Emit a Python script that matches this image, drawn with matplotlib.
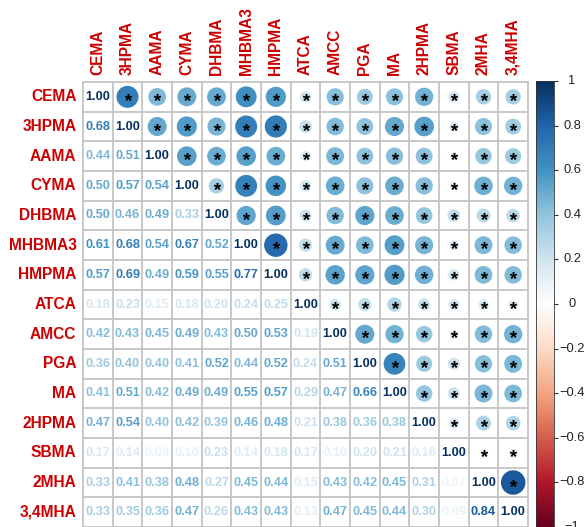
import numpy as np
import matplotlib
matplotlib.use("Agg")
import matplotlib.pyplot as plt
from matplotlib.colors import LinearSegmentedColormap
from matplotlib.patches import Circle
from matplotlib.textpath import TextPath
from matplotlib.font_manager import FontProperties
from matplotlib.path import Path

# Biomarker names (rows and columns of the correlation matrix)
labels = ["CEMA", "3HPMA", "AAMA", "CYMA", "DHBMA", "MHBMA3", "HMPMA", "ATCA",
          "AMCC", "PGA", "MA", "2HPMA", "SBMA", "2MHA", "3,4MHA"]

# Lower triangle of the Spearman correlation matrix (row by row, diagonal included)
lower_tri = [
    [1.00],
    [0.68, 1.00],
    [0.44, 0.51, 1.00],
    [0.50, 0.57, 0.54, 1.00],
    [0.50, 0.46, 0.49, 0.33, 1.00],
    [0.61, 0.68, 0.54, 0.67, 0.52, 1.00],
    [0.57, 0.69, 0.49, 0.59, 0.55, 0.77, 1.00],
    [0.18, 0.23, 0.15, 0.18, 0.20, 0.24, 0.25, 1.00],
    [0.42, 0.43, 0.45, 0.49, 0.43, 0.50, 0.53, 0.19, 1.00],
    [0.36, 0.40, 0.40, 0.41, 0.52, 0.44, 0.52, 0.24, 0.51, 1.00],
    [0.41, 0.51, 0.42, 0.49, 0.49, 0.55, 0.57, 0.29, 0.47, 0.66, 1.00],
    [0.47, 0.54, 0.40, 0.42, 0.39, 0.46, 0.48, 0.21, 0.38, 0.36, 0.38, 1.00],
    [0.17, 0.14, 0.09, 0.10, 0.23, 0.14, 0.18, 0.17, 0.10, 0.20, 0.21, 0.16, 1.00],
    [0.33, 0.41, 0.38, 0.48, 0.27, 0.45, 0.44, 0.15, 0.43, 0.42, 0.45, 0.31, 0.07, 1.00],
    [0.33, 0.35, 0.36, 0.47, 0.26, 0.43, 0.43, 0.13, 0.47, 0.45, 0.44, 0.30, 0.09, 0.84, 1.00],
]

# Significance flags for the upper triangle (all pairs significant)
significant = [[True] * len(labels) for _ in labels]

# Colorbar tick values and their labels
cbar_ticks = [-1.0, -0.8, -0.6, -0.4, -0.2, 0.0, 0.2, 0.4, 0.6, 0.8, 1.0]
cbar_labels = ["−1", "−0.8", "−0.6", "−0.4", "−0.2", "0", "0.2", "0.4", "0.6", "0.8", "1"]

n = len(labels)
corr = np.zeros((n, n))
for i, row in enumerate(lower_tri):
    for j, v in enumerate(row):
        corr[i, j] = v
        corr[j, i] = v

cmap = LinearSegmentedColormap.from_list(
    "rdbu_corr",
    ["#67001F", "#B2182B", "#D6604D", "#F4A582", "#FDDBC7", "#FFFFFF",
     "#D1E5F0", "#92C5DE", "#4393C3", "#2166AC", "#053061"], N=200)
norm = plt.Normalize(-1, 1)

label_color = "#CC0000"
font_bold = FontProperties(family="Liberation Sans", weight="bold")

W, H = 586, 527
fig = plt.figure(figsize=(W / 100, H / 100), dpi=100)

# matrix axes: pixel box x 83..528, y 82..527
gx0, gy0, gs = 83, 82, 445
ax = fig.add_axes([gx0 / W, (H - gy0 - gs) / H, gs / W, gs / H])
ax.set_xlim(0, n)
ax.set_ylim(n, 0)
ax.set_axis_off()

# asterisk marker built from a glyph, centred on the origin
tp = TextPath((0, 0), "*", prop=font_bold, size=10)
verts = tp.vertices.copy()
codes = tp.codes
real = codes != Path.CLOSEPOLY
x0, x1 = verts[real, 0].min(), verts[real, 0].max()
y0, y1 = verts[real, 1].min(), verts[real, 1].max()
verts[:, 0] -= (x0 + x1) / 2
verts[:, 1] -= (y0 + y1) / 2
verts[~real] = 0.0
star = Path(verts, codes)

for i in range(n):
    for j in range(n):
        r = corr[i, j]
        if j <= i:
            ax.text(j + 0.5, i + 0.5, f"{r:.2f}", ha="center", va="center",
                    fontsize=9.2, family="Liberation Sans",
                    weight="bold", color=cmap(norm(r)))
        else:
            rad = 0.9 * np.sqrt(abs(r)) / 2
            ax.add_patch(Circle((j + 0.5, i + 0.5), rad, facecolor=cmap(norm(r)),
                                edgecolor="none", zorder=2))
            if significant[i][j]:
                ax.plot(j + 0.5, i + 0.5, marker=star, markersize=5.3,
                        color="black", markeredgewidth=0, zorder=3)

# cell grid
for k in range(n + 1):
    ax.plot([k, k], [0, n], color="#c4c4c4", lw=1.3, zorder=1, clip_on=False)
    ax.plot([0, n], [k, k], color="#c4c4c4", lw=1.3, zorder=1, clip_on=False)

# row and column labels
for k, name in enumerate(labels):
    ax.text(-0.22, k + 0.5, name, ha="right", va="center", fontsize=11.2,
            family="Liberation Sans", weight="bold", color=label_color)
    ax.text(k + 0.5, -0.22, name, ha="center", va="bottom", rotation=90,
            fontsize=11.2, family="Liberation Sans", weight="bold",
            color=label_color)

# colour legend: pixel box x 536..554, y 81..527
cx0, cy0, cw, ch = 536, 81, 18, 446
cax = fig.add_axes([cx0 / W, (H - cy0 - ch) / H, cw / W, ch / H])
grad = np.linspace(-1, 1, 400)[:, None]
cax.imshow(grad, aspect="auto", cmap=cmap, norm=norm, origin="lower",
           extent=[0, 1, -1, 1])
cax.set_xlim(0, 1)
cax.set_ylim(-1, 1)
cax.set_xticks([])
cax.yaxis.tick_right()
cax.set_yticks(cbar_ticks)
cax.set_yticklabels([])
cax.tick_params(axis="y", length=3, width=0.8, color="#333333")
label_x = (572 - cx0) / cw
for t, lab in zip(cbar_ticks, cbar_labels):
    cax.text(label_x, t, lab, ha="center", va="center", fontsize=9.3,
             family="Liberation Sans", color="#222222", clip_on=False)
for sp in cax.spines.values():
    sp.set_linewidth(0.6)
    sp.set_color("#333333")

fig.savefig("out.png", dpi=100)
